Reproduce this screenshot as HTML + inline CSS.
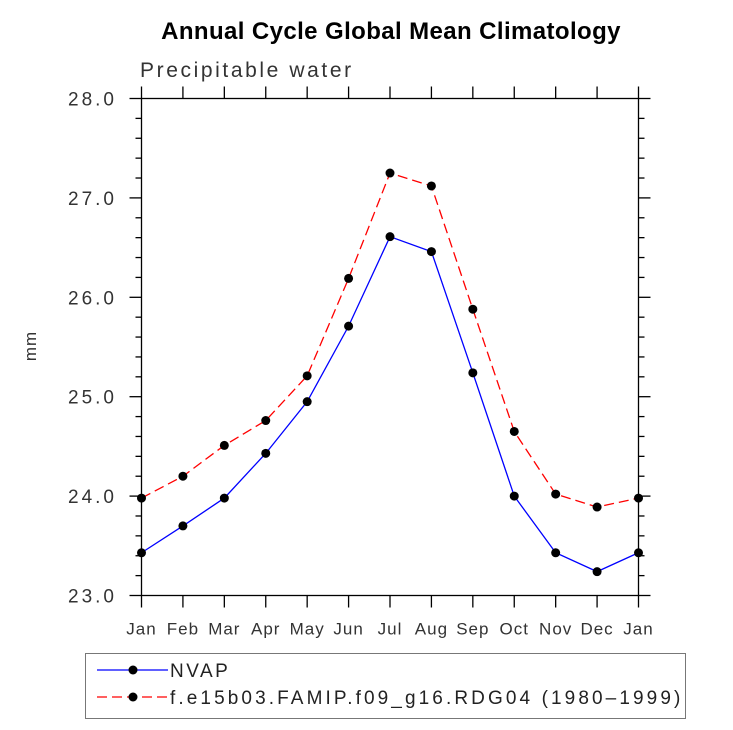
<!DOCTYPE html>
<html><head><meta charset="utf-8"><style>
body{margin:0;background:#fff;}
svg text{font-family:"Liberation Sans",sans-serif;}
</style></head><body>
<svg id="chart" width="733" height="725" xmlns="http://www.w3.org/2000/svg">
<text x="391" y="39" text-anchor="middle" font-size="24" font-weight="bold" letter-spacing="0.4">Annual Cycle Global Mean Climatology</text>
<text x="140" y="77" font-size="21" fill="#333" letter-spacing="2.6">Precipitable water</text>
<text transform="translate(36,346) rotate(-90)" text-anchor="middle" font-size="17" fill="#333" letter-spacing="1">mm</text>
<g id="axes"></g>
<g id="series"></g>
<g>
<rect x="85.5" y="653.5" width="600" height="65" fill="none" stroke="#777" stroke-width="1"/>
<line x1="97" y1="670" x2="168" y2="670" stroke="#00f" stroke-width="1.3"/>
<circle cx="133" cy="670" r="4.5"/>
<text x="170" y="677" font-size="19" fill="#222" letter-spacing="2.5">NVAP</text>
<line x1="97" y1="697" x2="168" y2="697" stroke="#f00" stroke-width="1.3" stroke-dasharray="10,5"/>
<circle cx="133" cy="697" r="4.5"/>
<text x="170" y="704" font-size="19" fill="#222" letter-spacing="3.1">f.e15b03.FAMIP.f09_g16.RDG04 (1980–1999)</text>
</g>
</svg>
<script>
const months=["Jan","Feb","Mar","Apr","May","Jun","Jul","Aug","Sep","Oct","Nov","Dec","Jan"];
const nvap=[23.43,23.70,23.98,24.43,24.95,25.71,26.61,26.46,25.24,24.00,23.43,23.24,23.43];
const model=[23.98,24.20,24.51,24.76,25.21,26.19,27.25,27.12,25.88,24.65,24.02,23.89,23.98];
const yTicks=[23.0,24.0,25.0,26.0,27.0,28.0];
const NS="http://www.w3.org/2000/svg";
const X0=141.5,X1=638.5,Y0=595.5,Y1=98.5;
const xs=i=>X0+(X1-X0)*i/12;
const ys=v=>Y0-(v-23)/5*(Y0-Y1);
function mk(tag,at,parent){const e=document.createElementNS(NS,tag);for(const k in at)e.setAttribute(k,at[k]);parent.appendChild(e);return e;}
const ax=document.getElementById('axes');
const fr=mk('rect',{x:X0,y:Y1,width:X1-X0,height:Y0-Y1,fill:'none',stroke:'#000','stroke-width':1.3},ax);


months.forEach((m,i)=>{
  const x=xs(i);
  mk('line',{x1:x,y1:Y0,x2:x,y2:Y0+12,stroke:'#000','stroke-width':1.3},ax);
  mk('line',{x1:x,y1:Y1,x2:x,y2:Y1-12,stroke:'#000','stroke-width':1.3},ax);
  const t=mk('text',{x:x,y:Y0+39,'text-anchor':'middle','font-size':17,fill:'#333','letter-spacing':1},ax);
  t.textContent=m;
  
  
});
for(let v=23;v<=28.001;v+=0.2){
  const y=ys(v);const major=Math.abs(v-Math.round(v))<1e-6;const L=major?12:6;
  mk('line',{x1:X0-L,y1:y,x2:X0,y2:y,stroke:'#000','stroke-width':1.3},ax);
  mk('line',{x1:X1,y1:y,x2:X1+L,y2:y,stroke:'#000','stroke-width':1.3},ax);
}
yTicks.forEach(v=>{
  const t=mk('text',{x:117,y:ys(v)+7,'text-anchor':'end','font-size':19,fill:'#333','letter-spacing':3},ax);
  t.textContent=v.toFixed(1);
  
  
});
const sg=document.getElementById('series');
function draw(vals,color,dash,name){
  const p=mk('polyline',{points:vals.map((v,i)=>xs(i)+','+ys(v)).join(' '),fill:'none',stroke:color,'stroke-width':1.3,'stroke-dasharray':dash},sg);
  
  
  vals.forEach((v,i)=>{
    const c=mk('circle',{cx:xs(i),cy:ys(v),r:4.5,fill:'#000'},sg);
    
    
  });
}
draw(nvap,'#00f','none','nvap');
draw(model,'#f00','10,5','model');
</script>
</body></html>
